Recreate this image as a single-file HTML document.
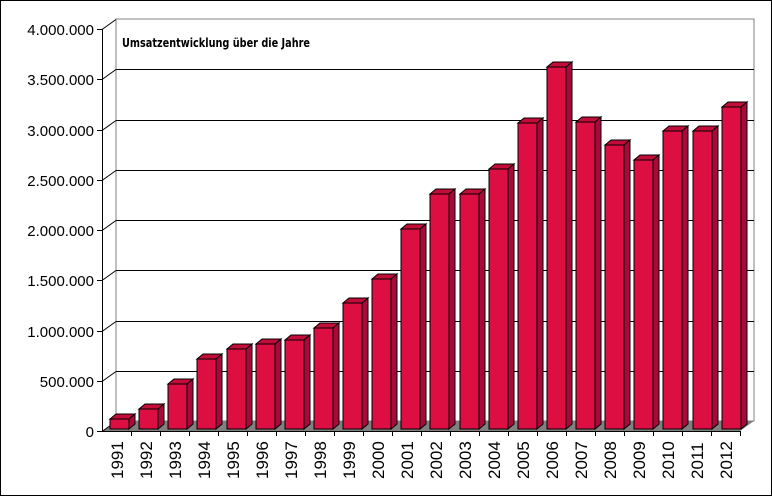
<!DOCTYPE html>
<html><head><style>body{margin:0;background:#fff}svg{display:block}</style></head><body>
<svg width="772" height="496" xmlns="http://www.w3.org/2000/svg" font-family="Liberation Sans, sans-serif">
<rect x="0.5" y="0.5" width="771" height="495" fill="#fff" stroke="#000"/>
<polygon points="116,19 754,19 754,421 116,421" fill="#fff" stroke="#808080"/>
<polygon points="102,431 740,431 754,421 116,421" fill="#808080"/>
<g stroke="#000">
<line x1="116" y1="371.5" x2="754" y2="371.5"/>
<line x1="116" y1="321.5" x2="754" y2="321.5"/>
<line x1="116" y1="270.5" x2="754" y2="270.5"/>
<line x1="116" y1="220.5" x2="754" y2="220.5"/>
<line x1="116" y1="170.5" x2="754" y2="170.5"/>
<line x1="116" y1="120.5" x2="754" y2="120.5"/>
<line x1="116" y1="69.5" x2="754" y2="69.5"/>
<line x1="97" y1="431.5" x2="102" y2="431.5"/><line x1="102" y1="431.5" x2="116" y2="421.5"/>
<line x1="97" y1="381.5" x2="102" y2="381.5"/><line x1="102" y1="381.5" x2="116" y2="371.5"/>
<line x1="97" y1="331.5" x2="102" y2="331.5"/><line x1="102" y1="331.5" x2="116" y2="321.5"/>
<line x1="97" y1="280.5" x2="102" y2="280.5"/><line x1="102" y1="280.5" x2="116" y2="270.5"/>
<line x1="97" y1="230.5" x2="102" y2="230.5"/><line x1="102" y1="230.5" x2="116" y2="220.5"/>
<line x1="97" y1="180.5" x2="102" y2="180.5"/><line x1="102" y1="180.5" x2="116" y2="170.5"/>
<line x1="97" y1="130.5" x2="102" y2="130.5"/><line x1="102" y1="130.5" x2="116" y2="120.5"/>
<line x1="97" y1="79.5" x2="102" y2="79.5"/><line x1="102" y1="79.5" x2="116" y2="69.5"/>
<line x1="97" y1="29.5" x2="102" y2="29.5"/><line x1="102" y1="29.5" x2="116" y2="19.5"/>
</g>
<text x="122" y="47" font-size="12" font-weight="bold" font-family="DejaVu Sans, sans-serif" textLength="188" lengthAdjust="spacingAndGlyphs">Umsatzentwicklung über die Jahre</text>
<g stroke="#000" stroke-width="1">
<g transform="translate(110,419)"><polygon points="0,0 6,-5 25,-5 19,0" fill="#C40C3A"/><polygon points="19,0 25,-5 25,5 19,10" fill="#A8083A"/><rect width="19" height="10" fill="#DC0E42"/></g>
<g transform="translate(139,409)"><polygon points="0,0 6,-5 25,-5 19,0" fill="#C40C3A"/><polygon points="19,0 25,-5 25,15 19,20" fill="#A8083A"/><rect width="19" height="20" fill="#DC0E42"/></g>
<g transform="translate(168,384)"><polygon points="0,0 6,-5 25,-5 19,0" fill="#C40C3A"/><polygon points="19,0 25,-5 25,40 19,45" fill="#A8083A"/><rect width="19" height="45" fill="#DC0E42"/></g>
<g transform="translate(197,359)"><polygon points="0,0 6,-5 25,-5 19,0" fill="#C40C3A"/><polygon points="19,0 25,-5 25,65 19,70" fill="#A8083A"/><rect width="19" height="70" fill="#DC0E42"/></g>
<g transform="translate(227,349)"><polygon points="0,0 6,-5 25,-5 19,0" fill="#C40C3A"/><polygon points="19,0 25,-5 25,75 19,80" fill="#A8083A"/><rect width="19" height="80" fill="#DC0E42"/></g>
<g transform="translate(256,344)"><polygon points="0,0 6,-5 25,-5 19,0" fill="#C40C3A"/><polygon points="19,0 25,-5 25,80 19,85" fill="#A8083A"/><rect width="19" height="85" fill="#DC0E42"/></g>
<g transform="translate(285,340)"><polygon points="0,0 6,-5 25,-5 19,0" fill="#C40C3A"/><polygon points="19,0 25,-5 25,84 19,89" fill="#A8083A"/><rect width="19" height="89" fill="#DC0E42"/></g>
<g transform="translate(314,328)"><polygon points="0,0 6,-5 25,-5 19,0" fill="#C40C3A"/><polygon points="19,0 25,-5 25,96 19,101" fill="#A8083A"/><rect width="19" height="101" fill="#DC0E42"/></g>
<g transform="translate(343,303)"><polygon points="0,0 6,-5 25,-5 19,0" fill="#C40C3A"/><polygon points="19,0 25,-5 25,121 19,126" fill="#A8083A"/><rect width="19" height="126" fill="#DC0E42"/></g>
<g transform="translate(372,279)"><polygon points="0,0 6,-5 25,-5 19,0" fill="#C40C3A"/><polygon points="19,0 25,-5 25,145 19,150" fill="#A8083A"/><rect width="19" height="150" fill="#DC0E42"/></g>
<g transform="translate(401,229)"><polygon points="0,0 6,-5 25,-5 19,0" fill="#C40C3A"/><polygon points="19,0 25,-5 25,195 19,200" fill="#A8083A"/><rect width="19" height="200" fill="#DC0E42"/></g>
<g transform="translate(430,194)"><polygon points="0,0 6,-5 25,-5 19,0" fill="#C40C3A"/><polygon points="19,0 25,-5 25,230 19,235" fill="#A8083A"/><rect width="19" height="235" fill="#DC0E42"/></g>
<g transform="translate(460,194)"><polygon points="0,0 6,-5 25,-5 19,0" fill="#C40C3A"/><polygon points="19,0 25,-5 25,230 19,235" fill="#A8083A"/><rect width="19" height="235" fill="#DC0E42"/></g>
<g transform="translate(489,169)"><polygon points="0,0 6,-5 25,-5 19,0" fill="#C40C3A"/><polygon points="19,0 25,-5 25,255 19,260" fill="#A8083A"/><rect width="19" height="260" fill="#DC0E42"/></g>
<g transform="translate(518,123)"><polygon points="0,0 6,-5 25,-5 19,0" fill="#C40C3A"/><polygon points="19,0 25,-5 25,301 19,306" fill="#A8083A"/><rect width="19" height="306" fill="#DC0E42"/></g>
<g transform="translate(547,67)"><polygon points="0,0 6,-5 25,-5 19,0" fill="#C40C3A"/><polygon points="19,0 25,-5 25,357 19,362" fill="#A8083A"/><rect width="19" height="362" fill="#DC0E42"/></g>
<g transform="translate(576,122)"><polygon points="0,0 6,-5 25,-5 19,0" fill="#C40C3A"/><polygon points="19,0 25,-5 25,302 19,307" fill="#A8083A"/><rect width="19" height="307" fill="#DC0E42"/></g>
<g transform="translate(605,145)"><polygon points="0,0 6,-5 25,-5 19,0" fill="#C40C3A"/><polygon points="19,0 25,-5 25,279 19,284" fill="#A8083A"/><rect width="19" height="284" fill="#DC0E42"/></g>
<g transform="translate(634,160)"><polygon points="0,0 6,-5 25,-5 19,0" fill="#C40C3A"/><polygon points="19,0 25,-5 25,264 19,269" fill="#A8083A"/><rect width="19" height="269" fill="#DC0E42"/></g>
<g transform="translate(663,131)"><polygon points="0,0 6,-5 25,-5 19,0" fill="#C40C3A"/><polygon points="19,0 25,-5 25,293 19,298" fill="#A8083A"/><rect width="19" height="298" fill="#DC0E42"/></g>
<g transform="translate(693,131)"><polygon points="0,0 6,-5 25,-5 19,0" fill="#C40C3A"/><polygon points="19,0 25,-5 25,293 19,298" fill="#A8083A"/><rect width="19" height="298" fill="#DC0E42"/></g>
<g transform="translate(722,107)"><polygon points="0,0 6,-5 25,-5 19,0" fill="#C40C3A"/><polygon points="19,0 25,-5 25,317 19,322" fill="#A8083A"/><rect width="19" height="322" fill="#DC0E42"/></g>
</g>
<line x1="102.5" y1="29" x2="102.5" y2="431" stroke="#000"/>
<line x1="102" y1="431.5" x2="740" y2="431.5" stroke="#000"/>
<g stroke="#000">
<line x1="131.5" y1="431" x2="131.5" y2="436"/><line x1="160.5" y1="431" x2="160.5" y2="436"/><line x1="189.5" y1="431" x2="189.5" y2="436"/><line x1="218.5" y1="431" x2="218.5" y2="436"/><line x1="247.5" y1="431" x2="247.5" y2="436"/><line x1="276.5" y1="431" x2="276.5" y2="436"/><line x1="305.5" y1="431" x2="305.5" y2="436"/><line x1="334.5" y1="431" x2="334.5" y2="436"/><line x1="363.5" y1="431" x2="363.5" y2="436"/><line x1="392.5" y1="431" x2="392.5" y2="436"/><line x1="421.5" y1="431" x2="421.5" y2="436"/><line x1="450.5" y1="431" x2="450.5" y2="436"/><line x1="479.5" y1="431" x2="479.5" y2="436"/><line x1="508.5" y1="431" x2="508.5" y2="436"/><line x1="537.5" y1="431" x2="537.5" y2="436"/><line x1="566.5" y1="431" x2="566.5" y2="436"/><line x1="595.5" y1="431" x2="595.5" y2="436"/><line x1="624.5" y1="431" x2="624.5" y2="436"/><line x1="653.5" y1="431" x2="653.5" y2="436"/><line x1="682.5" y1="431" x2="682.5" y2="436"/><line x1="711.5" y1="431" x2="711.5" y2="436"/><line x1="740.5" y1="431" x2="740.5" y2="436"/>
</g>
<g font-size="15" fill="#000" text-anchor="end">
<text x="94" y="437">0</text>
<text x="94" y="387">500.000</text>
<text x="94" y="337">1.000.000</text>
<text x="94" y="286">1.500.000</text>
<text x="94" y="236">2.000.000</text>
<text x="94" y="186">2.500.000</text>
<text x="94" y="136">3.000.000</text>
<text x="94" y="85">3.500.000</text>
<text x="94" y="35">4.000.000</text>
</g>
<g font-size="17" fill="#000">
<text transform="translate(123,479) rotate(-90)">1991</text>
<text transform="translate(152,479) rotate(-90)">1992</text>
<text transform="translate(181,479) rotate(-90)">1993</text>
<text transform="translate(210,479) rotate(-90)">1994</text>
<text transform="translate(239,479) rotate(-90)">1995</text>
<text transform="translate(268,479) rotate(-90)">1996</text>
<text transform="translate(297,479) rotate(-90)">1997</text>
<text transform="translate(326,479) rotate(-90)">1998</text>
<text transform="translate(355,479) rotate(-90)">1999</text>
<text transform="translate(384,479) rotate(-90)">2000</text>
<text transform="translate(413,479) rotate(-90)">2001</text>
<text transform="translate(442,479) rotate(-90)">2002</text>
<text transform="translate(471,479) rotate(-90)">2003</text>
<text transform="translate(500,479) rotate(-90)">2004</text>
<text transform="translate(529,479) rotate(-90)">2005</text>
<text transform="translate(558,479) rotate(-90)">2006</text>
<text transform="translate(587,479) rotate(-90)">2007</text>
<text transform="translate(616,479) rotate(-90)">2008</text>
<text transform="translate(645,479) rotate(-90)">2009</text>
<text transform="translate(674,479) rotate(-90)">2010</text>
<text transform="translate(703,479) rotate(-90)">2011</text>
<text transform="translate(732,479) rotate(-90)">2012</text>
</g>
</svg>
</body></html>
